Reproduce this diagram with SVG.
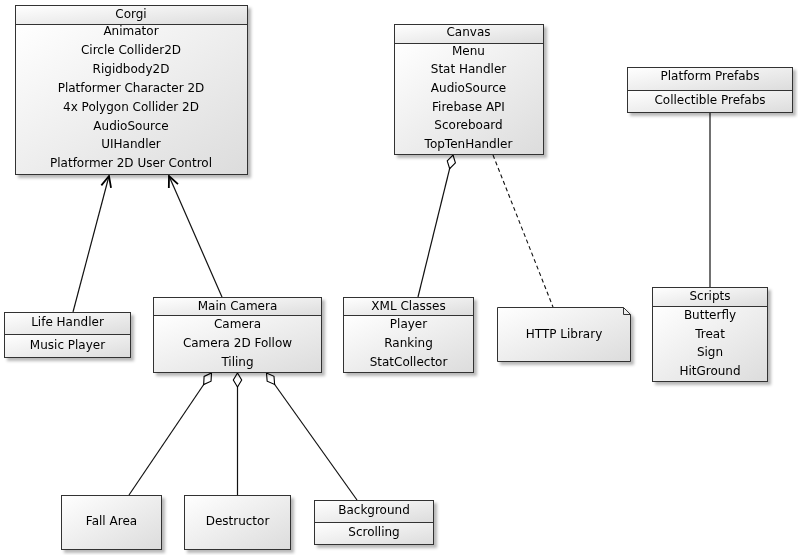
<svg xmlns="http://www.w3.org/2000/svg" width="798" height="555" viewBox="0 0 798 555">
<defs>
<linearGradient id="g" x1="0" y1="0" x2="1" y2="1">
<stop offset="0" stop-color="#ffffff"/>
<stop offset="1" stop-color="#dcdcdc"/>
</linearGradient>
<filter id="sh" x="-10%" y="-10%" width="130%" height="130%">
<feDropShadow dx="3" dy="3" stdDeviation="1.5" flood-color="#000" flood-opacity="0.28"/>
</filter>
<marker id="arr" markerUnits="userSpaceOnUse" markerWidth="14" markerHeight="14" viewBox="-12 -7 14 14" refX="0" refY="0" orient="auto">
<path d="M-11,-5 L0,0 L-11,5" fill="none" stroke="#000" stroke-width="1.8"/>
</marker>
<marker id="dia" markerUnits="userSpaceOnUse" markerWidth="18" markerHeight="12" viewBox="-1 -6 18 12" refX="0" refY="0" orient="auto">
<path d="M0,0 L7,-4.2 L14,0 L7,4.2 Z" fill="#fff" stroke="#000" stroke-width="1.1"/>
</marker>
</defs>
<style>
.box{fill:url(#g);stroke:#333;stroke-width:1}
.node{filter:url(#sh)}
text{font-family:"DejaVu Sans","Verdana",sans-serif;font-size:12px;fill:#000;text-anchor:middle}
.ln{stroke:#111;stroke-width:1.2;fill:none}
.dash{stroke:#111;stroke-width:1.1;fill:none;stroke-dasharray:4,3}
</style>

<g id="connectors">
<line class="ln" x1="73" y1="312" x2="109" y2="176" marker-end="url(#arr)"/>
<line class="ln" x1="222" y1="297" x2="169" y2="176" marker-end="url(#arr)"/>
<line class="ln" x1="453" y1="155" x2="418" y2="297" marker-start="url(#dia)"/>
<line class="dash" x1="493" y1="155" x2="553" y2="307"/>
<line class="ln" x1="710" y1="112" x2="710" y2="287"/>
<line class="ln" x1="211.5" y1="373" x2="129" y2="495" marker-start="url(#dia)"/>
<line class="ln" x1="237.5" y1="373" x2="237.5" y2="495" marker-start="url(#dia)"/>
<line class="ln" x1="266.5" y1="373" x2="357" y2="500" marker-start="url(#dia)"/>
</g>

<g id="corgi" class="node">
<rect class="box" x="15.5" y="5.5" width="232" height="19"/>
<rect class="box" x="15.5" y="24.5" width="232" height="150"/>
<text x="131" y="18">Corgi</text>
<text x="131" y="35">Animator</text>
<text x="131" y="54">Circle Collider2D</text>
<text x="131" y="73">Rigidbody2D</text>
<text x="131" y="91.7">Platformer Character 2D</text>
<text x="131" y="110.6">4x Polygon Collider 2D</text>
<text x="131" y="129.5">AudioSource</text>
<text x="131" y="148.4">UIHandler</text>
<text x="131" y="167.3">Platformer 2D User Control</text>
</g>

<g id="canvas" class="node">
<rect class="box" x="394.5" y="24.5" width="149" height="19"/>
<rect class="box" x="394.5" y="43.5" width="149" height="111"/>
<text x="468.5" y="36">Canvas</text>
<text x="468.5" y="54.5">Menu</text>
<text x="468.5" y="73.2">Stat Handler</text>
<text x="468.5" y="91.9">AudioSource</text>
<text x="468.5" y="110.6">Firebase API</text>
<text x="468.5" y="129.3">Scoreboard</text>
<text x="468.5" y="148">TopTenHandler</text>
</g>

<g id="platform-prefabs" class="node">
<rect class="box" x="627.5" y="67.5" width="165" height="23"/>
<rect class="box" x="627.5" y="90.5" width="165" height="22"/>
<text x="710" y="80">Platform Prefabs</text>
<text x="710" y="104">Collectible Prefabs</text>
</g>

<g id="scripts" class="node">
<rect class="box" x="652.5" y="287.5" width="115" height="19"/>
<rect class="box" x="652.5" y="306.5" width="115" height="75"/>
<text x="710" y="300">Scripts</text>
<text x="710" y="319">Butterfly</text>
<text x="710" y="337.5">Treat</text>
<text x="710" y="356">Sign</text>
<text x="710" y="374.5">HitGround</text>
</g>

<g id="life-handler" class="node">
<rect class="box" x="4.5" y="312.5" width="126" height="22"/>
<rect class="box" x="4.5" y="334.5" width="126" height="23"/>
<text x="67.5" y="326">Life Handler</text>
<text x="67.5" y="348.5">Music Player</text>
</g>

<g id="main-camera" class="node">
<rect class="box" x="153.5" y="297.5" width="168" height="18"/>
<rect class="box" x="153.5" y="315.5" width="168" height="57"/>
<text x="237.5" y="310">Main Camera</text>
<text x="237.5" y="328.3">Camera</text>
<text x="237.5" y="347">Camera 2D Follow</text>
<text x="237.5" y="365.6">Tiling</text>
</g>

<g id="xml-classes" class="node">
<rect class="box" x="343.5" y="297.5" width="130" height="18"/>
<rect class="box" x="343.5" y="315.5" width="130" height="57"/>
<text x="408.5" y="310">XML Classes</text>
<text x="408.5" y="328">Player</text>
<text x="408.5" y="347">Ranking</text>
<text x="408.5" y="365.6">StatCollector</text>
</g>

<g id="http-library" class="node">
<path class="box" d="M497.5,307.5 L623.5,307.5 L630.5,314.5 L630.5,361.5 L497.5,361.5 Z"/>
<path d="M623.5,307.5 L623.5,314.5 L630.5,314.5" fill="none" stroke="#333" stroke-width="1"/>
<text x="564" y="337.5">HTTP Library</text>
</g>

<g id="fall-area" class="node">
<rect class="box" x="61.5" y="495.5" width="100" height="54"/>
<text x="111.5" y="525">Fall Area</text>
</g>

<g id="destructor" class="node">
<rect class="box" x="184.5" y="495.5" width="106" height="54"/>
<text x="237.5" y="525">Destructor</text>
</g>

<g id="background" class="node">
<rect class="box" x="314.5" y="500.5" width="119" height="22"/>
<rect class="box" x="314.5" y="522.5" width="119" height="22"/>
<text x="374" y="514">Background</text>
<text x="374" y="536">Scrolling</text>
</g>
</svg>
